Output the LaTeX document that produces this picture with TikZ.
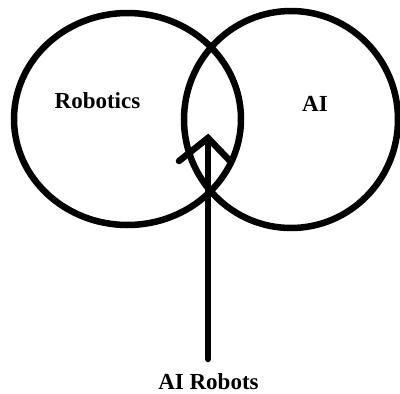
\documentclass[tikz,border=0pt]{standalone}
\usepackage{fontspec}
\setmainfont{Liberation Serif}
\begin{document}
\begin{tikzpicture}[x=1pt,y=-1pt,
  ring/.style={draw=black,line width=6.5pt},
  lbl/.style={font=\fontsize{23}{27}\selectfont\bfseries,text=black,inner sep=0pt,anchor=base},
  pointer/.style={draw=black,line width=6.5pt,line cap=round,line join=miter}]
\useasboundingbox (0,0) rectangle (400,394);
\fill[white] (0,0) rectangle (400,394);
\draw[ring] (127.5,119) ellipse [x radius=113.5, y radius=106];
\draw[ring] (291,119.5) ellipse [x radius=107, y radius=108.5];
\node[lbl] (rob) at (97.5,108) {Robotics};
\node[lbl] (ai) at (315,111) {AI};
\node[lbl] (air) at (208.5,389) {AI Robots};
\coordinate (tip) at (208,138);
\coordinate (base) at (208,359);
\coordinate (armL) at (179,161);
\coordinate (armR) at (231,162);
\draw[pointer] (base) -- (tip);
\draw[pointer] (armL) -- (tip) -- (armR);
\end{tikzpicture}
\end{document}
